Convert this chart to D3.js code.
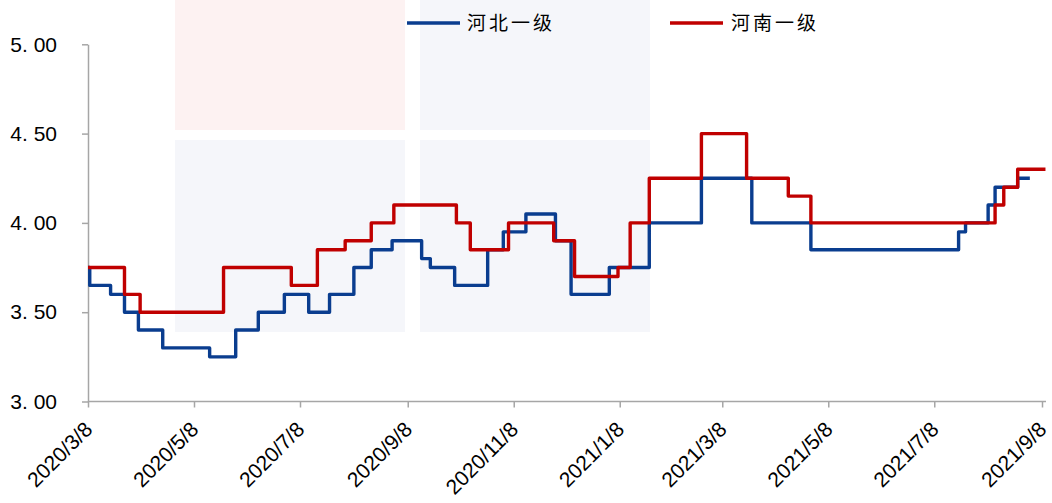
<!DOCTYPE html>
<html>
<head>
<meta charset="utf-8">
<script src="https://cdn.jsdelivr.net/npm/d3@7/dist/d3.min.js"></script>
<style>
  html, body { margin: 0; padding: 0; background: #fff; }
  svg { display: block; }
</style>
</head>
<body>
<svg id="chart" width="1052" height="503"></svg>
<script>
// ---- data ----
const seriesNames = ["河北一级", "河南一级"];
const hebeiDates = ["2020-03-08","2020-03-09","2020-03-21","2020-03-29","2020-04-06","2020-04-20","2020-05-17","2020-06-01","2020-06-14","2020-06-29","2020-07-13","2020-07-25","2020-08-08","2020-08-18","2020-08-30","2020-09-16","2020-09-21","2020-10-05","2020-10-24","2020-11-02","2020-11-15","2020-12-02","2020-12-11","2021-01-02","2021-01-25","2021-02-24","2021-03-25","2021-04-28","2021-07-22","2021-07-26","2021-08-08","2021-08-12","2021-08-25","2021-09-01"];
const hebeiValues = [3.75,3.65,3.60,3.50,3.40,3.30,3.25,3.40,3.50,3.60,3.50,3.60,3.75,3.85,3.90,3.80,3.75,3.65,3.85,3.95,4.05,3.90,3.60,3.75,4.00,4.25,4.00,3.85,3.95,4.00,4.10,4.20,4.25,4.25];
const henanDates = ["2020-03-08","2020-03-29","2020-04-07","2020-05-25","2020-07-03","2020-07-18","2020-08-03","2020-08-18","2020-08-31","2020-10-06","2020-10-14","2020-11-05","2020-12-01","2020-12-13","2021-01-07","2021-01-14","2021-01-25","2021-02-24","2021-03-22","2021-04-15","2021-04-28","2021-08-12","2021-08-17","2021-08-25","2021-09-10"];
const henanValues = [3.75,3.60,3.50,3.75,3.65,3.85,3.90,4.00,4.10,4.00,3.85,4.00,3.90,3.70,3.75,4.00,4.25,4.50,4.25,4.15,4.00,4.10,4.20,4.30,4.30];
const xTickDates = ["2020-03-08","2020-05-08","2020-07-08","2020-09-08","2020-11-08","2021-01-08","2021-03-08","2021-05-08","2021-07-08","2021-09-08"];
const xTickLabels = ["2020/3/8","2020/5/8","2020/7/8","2020/9/8","2020/11/8","2021/1/8","2021/3/8","2021/5/8","2021/7/8","2021/9/8"];
const yTickValues = [3.0, 3.5, 4.0, 4.5, 5.0];
const yTickLabels = ["3. 00","3. 50","4. 00","4. 50","5. 00"];
const colors = ["#0A3D8F", "#C00000"];

(function () {
// ---- layout ----
const parse = d3.timeParse("%Y-%m-%d");
const svg = d3.select("#chart");
const mLeft = 88, mRight = 1042, mTop = 44.3, mBottom = 401.5;

// watermark (background panels only)
const wm = svg.append("g").attr("class", "watermark");
const boxes = [
  {x:175, y:0, w:230, h:130, c:"#FDF2F2"},
  {x:420, y:0, w:230, h:130, c:"#F5F6FA"},
  {x:175, y:140, w:230, h:192, c:"#F5F6FA"},
  {x:420, y:140, w:230, h:192, c:"#F5F6FA"}
];
wm.selectAll("rect").data(boxes).join("rect")
  .attr("x", d => d.x).attr("y", d => d.y).attr("width", d => d.w).attr("height", d => d.h)
  .attr("fill", d => d.c);

const x = d3.scaleTime().domain([parse("2020-03-08"), parse("2021-09-08")]).range([mLeft, mRight]);
const y = d3.scaleLinear().domain([3, 5]).range([mBottom, mTop]);

const axisColor = "#A6A6A6";

// y axis
const yAxis = d3.axisLeft(y).tickValues(yTickValues)
  .tickFormat((d, i) => yTickLabels[i]).tickSize(6).tickPadding(25).tickSizeOuter(0);
const gy = svg.append("g").attr("transform", `translate(${mLeft},0)`).call(yAxis);
gy.select(".domain").attr("stroke", axisColor).attr("stroke-width", 1.5);
gy.selectAll(".tick line").attr("stroke", axisColor).attr("stroke-width", 1.5);
gy.selectAll(".tick text")
  .attr("font-family", "'Liberation Sans', Arial, sans-serif")
  .attr("font-size", 21).attr("fill", "#000");

// x axis
const xAxis = d3.axisBottom(x).tickValues(xTickDates.map(parse))
  .tickFormat((d, i) => xTickLabels[i]).tickSize(6).tickSizeOuter(0);
const gx = svg.append("g").attr("transform", `translate(0,${mBottom})`).call(xAxis);
gx.select(".domain").remove();
gx.append("line").attr("x1", mLeft).attr("x2", mRight + 4).attr("y1", 0).attr("y2", 0)
  .attr("stroke", axisColor).attr("stroke-width", 1.5);
gx.selectAll(".tick line").attr("stroke", axisColor).attr("stroke-width", 1.5);
gx.selectAll(".tick text")
  .attr("font-family", "'Liberation Sans', Arial, sans-serif")
  .attr("font-size", 21).attr("fill", "#000")
  .attr("text-anchor", "end")
  .attr("dy", "0.35em")
  .attr("y", 0)
  .attr("transform", "translate(0,24) rotate(-45)");

// lines
const line = d3.line().x(d => x(d[0])).y(d => y(d[1])).curve(d3.curveStepAfter);
const hebei = hebeiDates.map((d, i) => [parse(d), hebeiValues[i]]);
const henan = henanDates.map((d, i) => [parse(d), henanValues[i]]);
[hebei, henan].forEach((s, i) => {
  svg.append("path").datum(s).attr("d", line)
    .attr("fill", "none").attr("stroke", colors[i]).attr("stroke-width", 3.4)
    .attr("stroke-linejoin", "round");
});

// legend
const legend = [
  {x1: 407, x2: 460, tx: 467},
  {x1: 670, x2: 723, tx: 731}
];
legend.forEach((l, i) => {
  svg.append("line").attr("x1", l.x1).attr("x2", l.x2).attr("y1", 23).attr("y2", 23)
    .attr("stroke", colors[i]).attr("stroke-width", 3.4);
  svg.append("text").attr("x", l.tx).attr("y", 30)
    .attr("font-family", "'Noto Sans CJK SC', sans-serif")
    .attr("font-size", 19).attr("letter-spacing", 3).attr("fill", "#000")
    .text(seriesNames[i]);
});
})();
</script>
</body>
</html>
